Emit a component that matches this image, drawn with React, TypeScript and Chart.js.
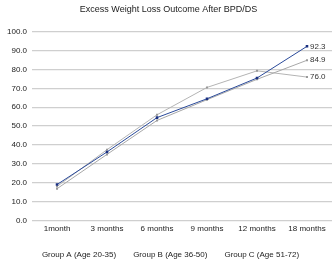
import React, { useEffect, useRef } from "react";
import { Chart, registerables } from "chart.js";

Chart.register(...registerables);

const categories = ["1month", "3 months", "6 months", "9 months", "12 months", "18 months"];
const groupA = [19.0, 36.3, 54.5, 64.5, 75.5, 92.3];
const groupB = [16.8, 35.0, 53.0, 64.0, 74.8, 84.9];
const groupC = [18.0, 37.5, 56.0, 70.5, 79.3, 76.0];
const seriesNames = ["Group A (Age 20-35)", "Group B (Age 36-50)", "Group C (Age 51-72)"];
const yTicks = [0, 10, 20, 30, 40, 50, 60, 70, 80, 90, 100];
const titleText = "Excess Weight Loss Outcome After BPD/DS";

const FONT = "'Liberation Sans', Arial, sans-serif";

const endLabels = {
  id: "endLabels",
  afterDatasetsDraw(chart: any) {
    const ctx = chart.ctx;
    ctx.save();
    ctx.font = `8px ${FONT}`;
    ctx.fillStyle = "#333";
    ctx.textBaseline = "middle";
    ctx.textAlign = "left";
    chart.data.datasets.forEach((ds: any, i: number) => {
      const meta = chart.getDatasetMeta(i);
      const n = ds.data.length - 1;
      const pt = meta.data[n];
      if (!pt) return;
      ctx.fillText(Number(ds.data[n]).toFixed(1), pt.x + 3, pt.y);
    });
    ctx.restore();
  },
};

export default function App() {
  const ref = useRef<HTMLCanvasElement>(null);
  useEffect(() => {
    document.body.style.margin = "0";
    const chart = new Chart(ref.current!, {
      type: "line",
      data: {
        labels: categories,
        datasets: [
          {
            label: seriesNames[0],
            data: groupA,
            borderColor: "#2a4a9a",
            backgroundColor: "#1a2f80",
            borderWidth: 1,
            pointStyle: "rect",
            pointRadius: 1.8,
            pointBorderWidth: 0,
            tension: 0,
          },
          {
            label: seriesNames[1],
            data: groupB,
            borderColor: "#a8a8a8",
            backgroundColor: "#999",
            borderWidth: 1,
            pointStyle: "rect",
            pointRadius: 1.4,
            pointBorderWidth: 0,
            tension: 0,
          },
          {
            label: seriesNames[2],
            data: groupC,
            borderColor: "#b4b4b4",
            backgroundColor: "#999",
            borderWidth: 1,
            pointStyle: "rect",
            pointRadius: 1.4,
            pointBorderWidth: 0,
            tension: 0,
          },
        ],
      },
      options: {
        responsive: false,
        animation: false,
        layout: { padding: { left: 2, right: 1, top: 0, bottom: -9 } },
        plugins: {
          title: {
            display: true,
            text: titleText,
            color: "#222",
            font: { family: FONT, size: 9, weight: "normal" },
            padding: { top: 4, bottom: 17 },
          },
          legend: {
            position: "bottom",
            labels: {
              boxWidth: 0,
              boxHeight: 0,
              padding: 13,
              color: "#222",
              font: { family: FONT, size: 8 },
            },
          },
          tooltip: { enabled: false },
        },
        scales: {
          x: {
            offset: true,
            grid: { display: false, drawTicks: false },
            border: { display: false },
            ticks: { color: "#222", font: { family: FONT, size: 8 }, maxRotation: 0, padding: 4 },
          },
          y: {
            min: 0,
            max: 100,
            afterBuildTicks: (axis: any) => {
              axis.ticks = yTicks.map((v) => ({ value: v }));
            },
            grid: { color: "#cfcfcf", lineWidth: 1.2, drawTicks: false },
            border: { display: false },
            ticks: {
              color: "#222",
              font: { family: FONT, size: 8 },
              padding: 5,
              callback: (v: any) => Number(v).toFixed(1),
            },
          },
        },
      },
      plugins: [endLabels],
    });
    return () => chart.destroy();
  }, []);
  return <canvas ref={ref} width={336} height={260} style={{ display: "block" }} />;
}
